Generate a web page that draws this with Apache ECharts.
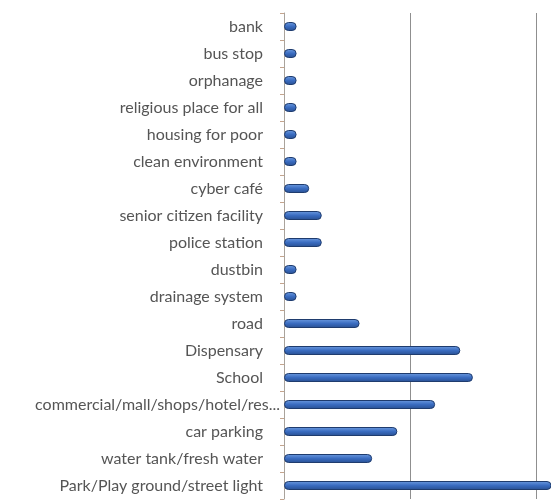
<!DOCTYPE html>
<html><head><meta charset="utf-8">
<script src="https://cdn.jsdelivr.net/npm/echarts@6/dist/echarts.min.js"></script>
<style>html,body{margin:0;padding:0;background:#fff}#c{width:551px;height:500px}</style>
</head><body><div id="c"></div>
<script>
const categories = ["bank","bus stop","orphanage","religious place for all","housing for poor","clean environment","cyber café","senior citizen facility","police station","dustbin","drainage system","road","Dispensary","School","commercial/mall/shops/hotel/res...","car parking","water tank/fresh water","Park/Play ground/street light"];
const values = [1,1,1,1,1,1,2,3,3,1,1,6,14,15,12,9,7,24];
const xTickStep = 10;

const chart = echarts.init(document.getElementById('c'));
const yData = categories.map(function(c){
  if(c.indexOf('...')>0){ return {value:c, textStyle:{padding:[0,-17,0,0]}}; }
  return c;
});
chart.setOption({
  animation:false,
  grid:{left:284, top:13, right:0, bottom:1, containLabel:false},
  xAxis:{type:'value', min:0, max:21.2, interval:xTickStep,
    axisLine:{show:false}, axisLabel:{show:false}, axisTick:{show:false},
    splitLine:{show:true, lineStyle:{color:'#8f8f8f', width:1}}},
  yAxis:{type:'category', data:yData, inverse:true,
    axisLine:{show:true, lineStyle:{color:'#a9a39c', width:1}},
    axisTick:{show:true, length:4, lineStyle:{color:'#c4a58e'}},
    axisLabel:{margin:21, color:'#555', fontFamily:'Lato', fontSize:16}},
  series:[{type:'bar', data:values, barWidth:9, clip:true,
    itemStyle:{borderRadius:4, borderColor:'#1f3c6e', borderWidth:1,
      color:new echarts.graphic.LinearGradient(0,0,0,1,[{offset:0,color:'#6d9be0'},{offset:0.5,color:'#3a6cc0'},{offset:1,color:'#284f91'}])}}]
});
</script></body></html>
